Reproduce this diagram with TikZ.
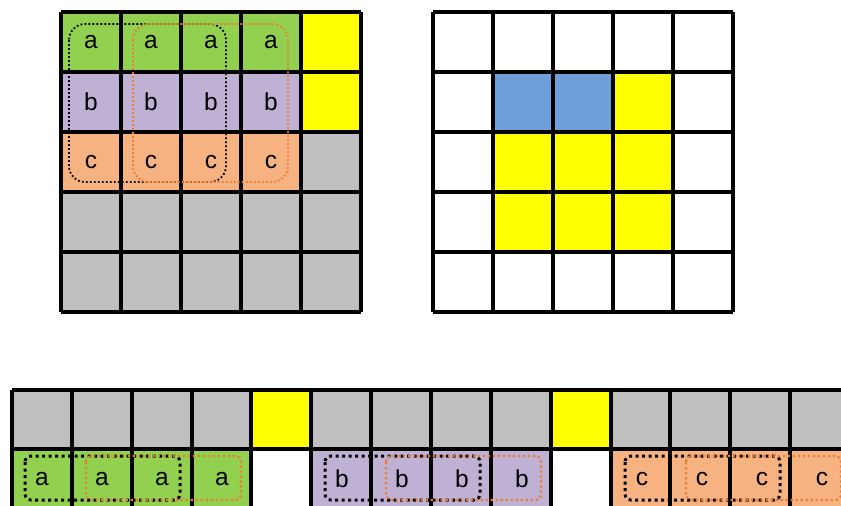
\documentclass[tikz,border=0pt]{standalone}
\usepackage{fontspec}
\setmainfont{Liberation Sans}
\usepackage{xcolor}
\usepackage{tikz}
\usetikzlibrary{positioning}
\definecolor{cellgreen}{RGB}{146,208,80}
\definecolor{cellpurple}{RGB}{190,177,212}
\definecolor{cellorange}{RGB}{246,178,128}
\definecolor{cellgray}{RGB}{191,191,191}
\definecolor{cellyellow}{RGB}{255,255,0}
\definecolor{cellblue}{RGB}{111,159,219}
\definecolor{windoworange}{RGB}{237,125,49}
\tikzset{
  grid-line/.style={line width=4pt, draw=black},
  cell-label/.style={font=\fontsize{24.5}{28}\selectfont, inner sep=0pt},
  window-thin/.style={line width=1.8pt, dash pattern=on 1.8pt off 2.2pt, rounded corners=16pt},
  window-thick/.style={line width=3pt, dash pattern=on 3pt off 3.5pt, rounded corners=6pt},
  window-orange/.style={line width=2.3pt, draw=windoworange, dash pattern=on 2.3pt off 2.7pt, rounded corners=6pt}
}

\begin{document}
\begin{tikzpicture}[x=1pt, y=-1pt]
\clip (0,0) rectangle (841,506);
\fill[white] (0,0) rectangle (841,506);

% input grid (left)
\fill[cellgray] (61,12) rectangle (361,312);
\fill[cellgreen] (61,12) rectangle (301,72);
\fill[cellpurple] (61,72) rectangle (301,132);
\fill[cellorange] (61,132) rectangle (301,192);
\fill[cellyellow] (301,12) rectangle (361,132);
\foreach \i in {0,...,5} {
  \draw[grid-line] (61+60*\i,12) -- (61+60*\i,312);
  \draw[grid-line] (61,12+60*\i) -- (361,12+60*\i);
}
\foreach \c in {0,...,3} {
  \node[cell-label] (in-a\c) at (91+60*\c,42) {a};
  \node[cell-label] (in-b\c) at (91+60*\c,102) {b};
  \node[cell-label] (in-c\c) at (91+60*\c,162) {c};
}
\draw[window-thin] (69,24) rectangle (226,182);
\draw[window-thin, draw=windoworange] (133,24) rectangle (288,182);

% output grid (right)
\fill[cellyellow] (493,72) rectangle (673,252);
\fill[cellblue] (493,72) rectangle (613,132);
\foreach \i in {0,...,5} {
  \draw[grid-line] (433+60*\i,12) -- (433+60*\i,312);
  \draw[grid-line] (433,12+60*\i) -- (733,12+60*\i);
}

% unrolled strip (bottom)
\fill[cellgray] (12,390) rectangle (852,449);
\fill[cellyellow] (252,390) rectangle (312,449);
\fill[cellyellow] (552,390) rectangle (612,449);
\fill[cellgreen] (12,449) rectangle (252,510);
\fill[cellpurple] (312,449) rectangle (552,510);
\fill[cellorange] (612,449) rectangle (852,510);
\foreach \i in {0,...,14}
  \draw[grid-line] (12+59.85*\i,390) -- (12+59.85*\i,510);
\draw[grid-line] (12,390) -- (852,390);
\draw[grid-line] (12,449) -- (852,449);
\foreach \c in {0,...,3} {
  \node[cell-label] (row-a\c) at (42+60*\c,479) {a};
  \node[cell-label] (row-b\c) at (342+60*\c,479) {b};
  \node[cell-label] (row-c\c) at (642+60*\c,479) {c};
}
\foreach \x in {12,312,612} {
  \draw[window-thick] (\x+13,456) rectangle (\x+168,500);
  \draw[window-orange] (\x+74,456) rectangle (\x+229,500);
}
\end{tikzpicture}
\end{document}
